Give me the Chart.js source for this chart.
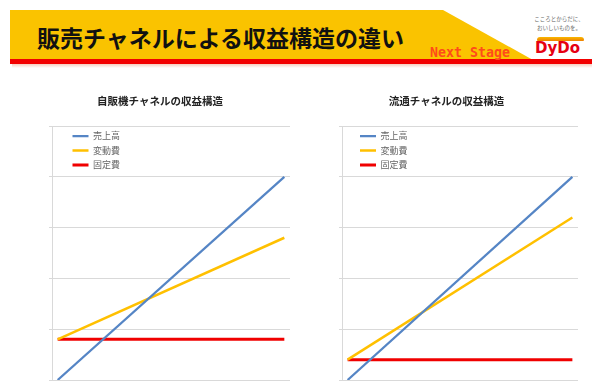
<!DOCTYPE html>
<html lang="ja">
<head>
<meta charset="utf-8">
<title>販売チャネルによる収益構造の違い</title>
<script src="https://cdn.jsdelivr.net/npm/chart.js@4.4.1/dist/chart.umd.min.js"></script>
<style>
  html, body { margin: 0; padding: 0; background: #fff; }
  body {
    position: relative; width: 592px; height: 381px; overflow: hidden;
    font-family: "Noto Sans CJK JP", sans-serif;
  }
  .band {
    position: absolute; left: 10px; top: 10px; width: 523px; height: 50px;
    background: #FAC300;
    clip-path: polygon(0 0, 433px 0, 523px 50px, 0 50px);
  }
  .stripe { position: absolute; left: 10px; top: 59px; width: 582px; height: 5px; background: #F20000; }
  .shade {
    position: absolute; left: 12px; top: 64px; width: 580px; height: 4px;
    background: linear-gradient(#F6CDBF, rgba(255,255,255,0));
  }
  h1 {
    position: absolute; left: 37px; top: 25px; margin: 0;
    font-size: 23px; line-height: 24px; font-weight: 700; color: #111; white-space: nowrap;
  }
  .stage {
    position: absolute; left: 430px; top: 45px;
    font: bold 13.3px/16px "DejaVu Sans Mono", monospace; color: #FF4A1A; white-space: nowrap;
  }
  .slogan {
    position: absolute; left: 530px; top: 15px; width: 58px; text-align: center;
    font-size: 5.5px; line-height: 9px; color: #666; white-space: nowrap;
  }
  .swoosh {
    position: absolute; left: 537px; top: 37px; width: 47px; height: 4px;
    background: linear-gradient(#F9B800, #EE7F00);
    border-radius: 3px 3px 1px 1px;
  }
  .logo {
    position: absolute; left: 535px; top: 40px;
    font: bold 15px/17px "DejaVu Sans", sans-serif; color: #E60012;
  }
  canvas { position: absolute; }
  #vending { left: 30px; top: 88px; }
  #retail { left: 315px; top: 88px; }
</style>
</head>
<body>
<div class="band"></div>
<div class="stripe"></div>
<div class="shade"></div>
<h1>販売チャネルによる収益構造の違い</h1>
<div class="stage">Next Stage</div>
<div class="slogan">こころとからだに、<br>おいしいものを。</div>
<div class="swoosh"></div>
<div class="logo">DyDo</div>

<canvas id="vending" width="260" height="300"></canvas>
<canvas id="retail" width="263" height="300"></canvas>

<script>
// sales volume at the two ends of each line
const volume = [0, 10];

const seriesNames = ['売上高', '変動費', '固定費'];
const seriesColors = ['#5585C5', '#FFC000', '#F00000'];
const seriesWidths = [2.25, 2.5, 3];

// 自販機チャネル
const vendSales = [0, 4.0];
const vendVariable = [0.8, 2.8];
const vendFixed = [0.8, 0.8];

// 流通チャネル
const retailSales = [0, 4.0];
const retailVariable = [0.4, 3.2];
const retailFixed = [0.4, 0.4];

const yMax = 5;
const FONT = '"Noto Sans CJK JP", sans-serif';

// legend sits inside the plot area, top-left, nudged right from the axis
const shiftLegend = {
  id: 'shiftLegend',
  afterLayout(chart, args, opts) {
    const lg = chart.legend;
    const area = chart.chartArea;
    if (!lg) return;
    const h = lg.bottom - lg.top;
    lg.left = area.left + (opts.x || 0);
    lg.right = lg.left + lg.width;
    lg.top = area.top;
    lg.bottom = area.top + h;
  }
};

function makeChart(canvasId, title, values, axisWidth, legendX) {
  const canvas = document.getElementById(canvasId);
  const datasets = values.map((vals, i) => ({
    label: seriesNames[i],
    data: volume.map((x, k) => ({ x, y: vals[k] })),
    borderColor: seriesColors[i],
    backgroundColor: seriesColors[i],
    borderWidth: seriesWidths[i],
    pointRadius: 0,
    tension: 0
  }));

  return new Chart(canvas, {
    type: 'line',
    data: { datasets },
    options: {
      responsive: false,
      animation: false,
      devicePixelRatio: 1,
      layout: { padding: { left: 0, right: 0, top: 0, bottom: 8 } },
      scales: {
        x: {
          type: 'linear',
          min: -0.25,
          max: 10.25,
          ticks: { display: false },
          grid: { display: false },
          border: { display: true, color: '#D9D9D9' },
          afterFit: s => { s.height = 0; }
        },
        y: {
          min: 0,
          max: yMax,
          ticks: { stepSize: 1, display: false },
          grid: { color: '#D9D9D9', tickLength: 3 },
          border: { color: '#D9D9D9' },
          afterFit: s => { s.width = axisWidth; }
        }
      },
      plugins: {
        title: {
          display: true,
          text: title,
          color: '#222',
          font: { family: FONT, size: 10.5, weight: 'bold' },
          padding: { top: 6.7, bottom: 18.7 }
        },
        legend: {
          position: 'chartArea',
          align: 'start',
          labels: {
            color: '#666',
            font: { family: FONT, size: 9 },
            boxWidth: 16,
            boxHeight: 0,
            padding: 5.5
          }
        },
        tooltip: { enabled: false },
        shiftLegend: { x: legendX }
      }
    },
    plugins: [shiftLegend]
  });
}

makeChart('vending', '自販機チャネルの収益構造', [vendSales, vendVariable, vendFixed], 22, 15);
makeChart('retail', '流通チャネルの収益構造', [retailSales, retailVariable, retailFixed], 27, 12.5);
</script>
</body>
</html>
